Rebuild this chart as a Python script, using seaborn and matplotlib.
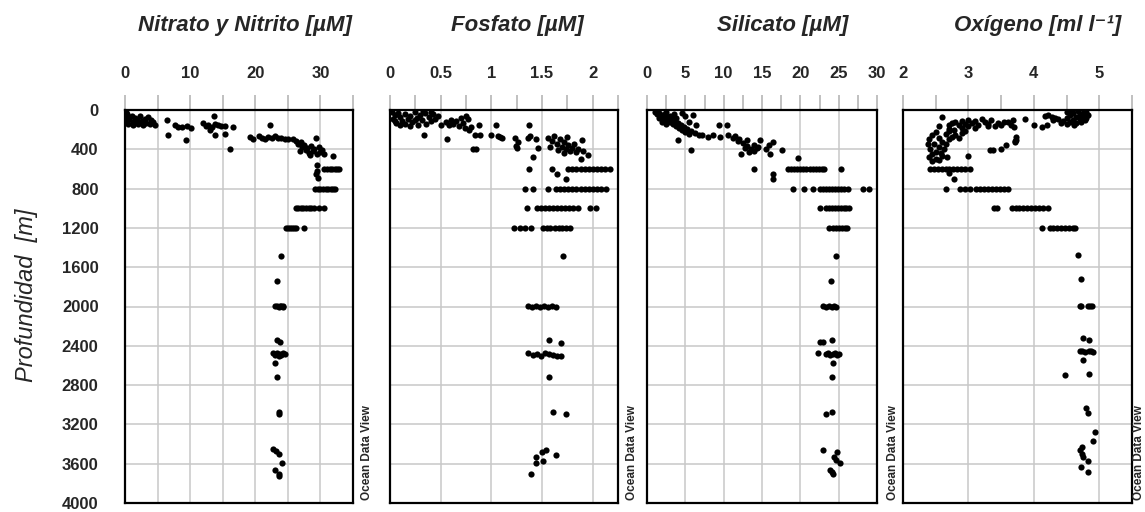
import matplotlib
matplotlib.use("Agg")
import matplotlib.pyplot as plt
import seaborn as sns
import pandas as pd

# (value, depth in m)
nitrate = [
    (0.3, 40), (0.4, 70), (0.3, 110), (0.5, 140), (0.2, 20), (0.6, 90), (1.0, 60), (1.2, 120),
    (1.5, 80), (1.8, 100), (2.0, 140), (2.3, 60), (2.6, 110), (3.0, 90), (3.2, 130), (3.5, 70),
    (3.8, 140), (4.0, 100), (4.3, 120), (4.6, 150), (2.8, 150), (1.3, 150),
    (6.5, 100), (6.6, 255), (7.6, 150), (8.2, 170), (8.8, 170), (9.5, 165), (10.2, 180), (9.3, 305),
    (12.0, 130), (12.4, 160), (12.8, 150), (13.3, 170), (13.6, 65), (13.8, 140), (14.2, 150),
    (14.8, 165), (15.3, 160), (13.8, 255), (13.0, 200), (15.4, 240), (16.6, 170), (16.1, 400), (22.2, 150),
    (19.2, 270), (19.7, 300), (20.5, 260), (21.0, 280), (21.5, 300), (22.0, 270), (22.5, 290),
    (23.0, 260), (23.5, 280), (24.0, 290), (24.5, 300), (25.0, 295),
    (25.8, 300), (26.3, 320), (26.6, 350), (27.0, 330), (27.2, 380), (27.5, 360), (27.8, 410),
    (28.0, 390), (28.2, 440), (28.5, 370), (28.8, 420), (29.0, 400), (29.3, 290), (29.5, 450),
    (29.8, 380), (30.0, 430), (30.3, 410), (30.6, 450), (26.9, 420), (28.4, 460), (31.9, 470),
    (29.5, 560), (29.4, 620), (29.3, 650), (29.6, 690),
    (30.6, 600), (31.0, 600), (31.4, 600), (31.8, 600), (32.2, 600), (32.6, 600), (32.9, 600),
    (29.2, 800), (29.6, 800), (30.0, 800), (30.4, 800), (30.8, 800), (31.2, 800), (31.6, 800),
    (32.0, 800), (32.3, 800),
    (26.2, 1000), (26.6, 1000), (27.0, 1000), (27.4, 1000), (27.8, 1000), (28.2, 1000),
    (28.6, 1000), (29.0, 1000), (29.8, 1000), (30.5, 1000),
    (24.7, 1200), (25.0, 1200), (25.3, 1200), (25.6, 1200), (25.9, 1200), (26.2, 1200), (27.5, 1200),
    (24.0, 1486), (23.4, 1737),
    (23.0, 1995), (23.3, 1990), (23.6, 2000), (23.8, 1995), (24.0, 1990), (24.2, 2000), (24.3, 1995),
    (23.3, 2340), (23.8, 2360),
    (22.7, 2477), (23.1, 2490), (23.4, 2470), (23.6, 2500), (23.8, 2480), (24.0, 2490), (24.2, 2475), (24.5, 2480),
    (23.1, 2572), (23.3, 2720), (23.6, 3070), (23.6, 3095),
    (22.7, 3454), (23.2, 3471), (23.6, 3501), (24.15, 3597), (23.0, 3664), (23.7, 3705), (23.6, 3722),
]

phosphate = [
    (0.02, 20), (0.05, 50), (0.03, 90), (0.08, 30), (0.1, 70), (0.12, 110), (0.06, 130), (0.15, 40),
    (0.18, 90), (0.2, 60), (0.22, 120), (0.25, 20), (0.27, 80), (0.3, 50), (0.32, 100), (0.35, 30),
    (0.38, 70), (0.4, 110), (0.42, 40), (0.44, 90), (0.15, 140), (0.28, 150), (0.2, 160), (0.36, 140),
    (0.1, 150), (0.05, 110), (0.25, 100), (0.33, 10), (0.4, 20), (0.47, 60),
    (0.34, 255), (0.56, 293), (0.5, 150), (0.55, 120), (0.6, 100), (0.65, 110), (0.7, 80), (0.72, 130),
    (0.75, 60), (0.77, 90), (0.68, 160), (0.74, 180), (0.62, 140), (0.58, 150), (0.8, 170), (0.78, 200),
    (0.84, 255), (0.89, 255), (0.88, 155), (0.82, 400), (0.85, 400),
    (1.0, 255), (1.05, 155), (1.09, 270), (1.11, 290), (1.07, 260),
    (1.23, 290), (1.26, 325), (1.25, 390), (1.24, 370),
    (1.37, 155), (1.36, 290), (1.41, 475), (1.46, 390), (1.38, 260), (1.44, 300),
    (1.56, 290), (1.6, 320), (1.62, 260), (1.65, 350), (1.68, 300), (1.7, 380), (1.72, 330),
    (1.74, 400), (1.76, 360), (1.78, 420), (1.8, 390), (1.82, 350), (1.84, 430), (1.86, 400),
    (1.66, 410), (1.72, 440), (1.75, 270), (1.9, 420), (1.58, 380),
    (1.89, 305), (1.95, 460), (1.88, 500),
    (1.37, 600), (1.6, 600), (1.65, 650), (1.74, 700),
    (1.76, 600), (1.80, 600), (1.84, 600), (1.88, 600), (1.92, 600), (1.96, 600), (2.00, 600),
    (2.04, 600), (2.08, 600), (2.12, 600), (2.17, 600),
    (1.33, 800), (1.41, 800), (1.56, 800), (1.64, 800), (1.68, 800), (1.72, 800), (1.76, 800),
    (1.80, 800), (1.84, 800), (1.88, 800), (1.92, 800), (1.96, 800), (2.00, 800), (2.04, 800),
    (2.08, 800), (2.13, 800),
    (1.35, 1000), (1.45, 1000), (1.49, 1000), (1.53, 1000), (1.57, 1000), (1.61, 1000), (1.65, 1000),
    (1.69, 1000), (1.73, 1000), (1.77, 1000), (1.81, 1000), (1.86, 1000), (1.97, 1000), (2.03, 1000),
    (1.22, 1200), (1.28, 1200), (1.33, 1200), (1.39, 1200), (1.51, 1200), (1.55, 1200), (1.58, 1200),
    (1.63, 1200), (1.67, 1200), (1.70, 1200), (1.74, 1200), (1.78, 1200),
    (1.71, 1486),
    (1.36, 1990), (1.40, 2000), (1.44, 1995), (1.48, 2005), (1.52, 1995), (1.56, 2000), (1.60, 1990), (1.64, 2005),
    (1.57, 2340), (1.69, 2368),
    (1.36, 2470), (1.41, 2495), (1.45, 2480), (1.49, 2500), (1.53, 2475), (1.57, 2485), (1.61, 2490),
    (1.65, 2500), (1.69, 2500),
    (1.57, 2720), (1.61, 3070), (1.74, 3097), (1.54, 3460), (1.50, 3484), (1.64, 3511), (1.44, 3528),
    (1.51, 3569), (1.44, 3594), (1.39, 3705),
]

silicate = [
    (1.0, 20), (1.3, 40), (1.6, 30), (1.8, 60), (2.0, 50), (2.2, 80), (2.4, 40), (2.6, 100), (2.8, 70),
    (3.0, 120), (3.2, 90), (3.4, 140), (3.6, 110), (3.8, 160), (4.0, 130), (4.2, 180), (4.4, 150),
    (4.6, 200), (4.8, 170), (5.0, 220), (5.2, 190), (5.5, 240), (5.8, 210), (6.2, 230), (2.5, 20),
    (3.5, 40), (4.5, 30), (5.0, 60), (3.0, 60), (1.5, 80), (2.0, 120), (2.5, 140), (3.8, 80), (5.5, 120),
    (4.1, 305), (5.8, 407), (6.0, 46), (6.4, 150), (6.8, 250),
    (7.2, 255), (8.0, 270), (8.6, 255), (9.5, 270), (9.4, 150), (10.4, 150),
    (10.6, 255), (11.2, 290), (11.9, 320), (12.5, 340), (13.0, 370), (13.5, 400), (13.9, 420),
    (14.3, 390), (14.8, 310), (13.0, 310), (13.9, 360), (12.3, 450), (11.5, 260), (12.0, 300),
    (12.8, 390), (13.3, 430), (14.5, 380),
    (14.0, 600), (15.5, 400), (15.9, 360), (16.4, 330), (17.6, 410), (16.0, 450),
    (16.4, 650), (16.4, 700), (19.7, 490),
    (18.4, 600), (18.8, 600), (19.2, 600), (19.6, 600), (20.0, 600), (20.4, 600), (20.8, 600),
    (21.2, 600), (21.6, 600), (22.0, 600), (22.4, 600), (22.8, 600), (23.1, 600), (25.3, 600),
    (19.0, 800), (20.5, 800), (21.7, 800), (22.5, 800), (22.9, 800), (23.3, 800), (23.7, 800),
    (24.1, 800), (24.5, 800), (24.9, 800), (25.3, 800), (25.7, 800), (26.2, 800), (28.2, 800), (29.0, 800),
    (22.6, 1000), (23.3, 1000), (23.7, 1000), (24.1, 1000), (24.5, 1000), (24.9, 1000),
    (25.3, 1000), (25.7, 1000), (26.0, 1000), (26.3, 1000),
    (23.8, 1200), (24.2, 1200), (24.6, 1200), (25.0, 1200), (25.4, 1200), (25.8, 1200), (26.1, 1200),
    (24.6, 1486), (24.0, 1737),
    (23.0, 1995), (23.4, 2000), (23.8, 1990), (24.1, 2000), (24.4, 1995), (24.7, 2000),
    (22.6, 2358), (22.9, 2358), (24.1, 2340),
    (22.3, 2477), (23.3, 2480), (23.6, 2470), (23.9, 2490), (24.2, 2480), (24.5, 2475), (24.8, 2490), (25.0, 2485),
    (24.2, 2572), (24.1, 2720), (24.1, 3070), (23.4, 3097), (22.9, 3460), (24.8, 3480), (24.4, 3528),
    (25.2, 3594), (24.6, 3560), (23.9, 3664), (24.2, 3705), (24.1, 3685),
]

oxygen = [
    (4.5, 20), (4.55, 50), (4.6, 30), (4.65, 70), (4.7, 40), (4.75, 60), (4.8, 20), (4.82, 50),
    (4.5, 80), (4.6, 100), (4.7, 90), (4.78, 100), (4.55, 120), (4.65, 130), (4.72, 120), (4.5, 140),
    (4.8, 80), (4.58, 10), (4.68, 10), (4.76, 10), (4.45, 110), (4.62, 150),
    (4.17, 60), (4.22, 50), (4.27, 70), (4.32, 80), (4.37, 90), (4.42, 130), (4.2, 150), (4.0, 150),
    (4.13, 170), (4.3, 100),
    (3.86, 90), (3.68, 100), (3.73, 271), (3.72, 305), (3.71, 315), (3.71, 325), (3.58, 356),
    (3.50, 397), (3.33, 407), (3.38, 407), (3.65, 150), (3.7, 170), (3.6, 120),
    (2.6, 70), (2.55, 160), (2.7, 150), (2.75, 130), (2.8, 120), (2.85, 150), (2.9, 110), (2.95, 140),
    (3.0, 100), (3.05, 130), (3.1, 110), (3.15, 150), (3.2, 90), (3.25, 120), (3.3, 140), (3.35, 100),
    (3.4, 160), (3.45, 130), (3.5, 150), (3.55, 120), (3.0, 160), (2.9, 180), (2.78, 200), (2.7, 190),
    (3.1, 180), (3.3, 160),
    (2.45, 250), (2.4, 300), (2.38, 350), (2.42, 400), (2.45, 450), (2.5, 500), (2.5, 220), (2.55, 280),
    (2.6, 330), (2.55, 380), (2.5, 430), (2.6, 470), (2.65, 240), (2.7, 300), (2.65, 350), (2.7, 210),
    (2.8, 250), (2.85, 280), (2.9, 230), (2.95, 210), (2.4, 480), (2.45, 520), (2.55, 510), (2.62, 400),
    (2.48, 350), (2.58, 440), (2.75, 270), (2.68, 480), (3.0, 470),
    (2.41, 600), (2.47, 600), (2.53, 600), (2.59, 600), (2.65, 600), (2.71, 600), (2.77, 600),
    (2.83, 600), (2.89, 600), (2.95, 600), (3.02, 600),
    (2.7, 640), (2.78, 700),
    (2.66, 800), (2.87, 800), (2.94, 800), (3.02, 800), (3.12, 800), (3.18, 800), (3.24, 800),
    (3.30, 800), (3.36, 800), (3.42, 800), (3.48, 800), (3.54, 800), (3.61, 800),
    (3.39, 1000), (3.44, 1000), (3.66, 1000), (3.72, 1000), (3.78, 1000), (3.84, 1000),
    (3.90, 1000), (3.96, 1000), (4.02, 1000), (4.08, 1000), (4.14, 1000), (4.22, 1000),
    (4.12, 1200), (4.25, 1200), (4.30, 1200), (4.36, 1200), (4.42, 1200), (4.48, 1200),
    (4.54, 1200), (4.60, 1200), (4.63, 1200),
    (4.68, 1476), (4.72, 1724),
    (4.70, 1990), (4.72, 1995), (4.82, 1990), (4.86, 1995), (4.89, 1990),
    (4.75, 2324), (4.84, 2344),
    (4.71, 2455), (4.74, 2450), (4.78, 2460), (4.84, 2455), (4.88, 2450), (4.91, 2460),
    (4.75, 2545), (4.47, 2700), (4.85, 2690), (4.80, 3037), (4.83, 3081), (4.93, 3277),
    (4.91, 3372), (4.74, 3427), (4.71, 3460), (4.73, 3500), (4.75, 3535), (4.83, 3570),
    (4.72, 3630), (4.82, 3680),
]

titles = ["Nitrato y Nitrito [µM]", "Fosfato [µM]", "Silicato [µM]", "Oxígeno [ml l⁻¹]"]
depth_ticks = [0, 400, 800, 1200, 1600, 2000, 2400, 2800, 3200, 3600, 4000]

sns.set_style("white")
plt.rcParams['font.family'] = ['Liberation Sans', 'DejaVu Sans']

W, H = 1145, 512
fig = plt.figure(figsize=(W / 100, H / 100), dpi=100)

# panel layout in pixels: left, width, x-range, major ticks, labels, minor ticks, title center
panels = [
    (nitrate, 125, 228, (0, 35), [0, 5, 10, 15, 20, 25, 30, 35],
     ["0", "", "10", "", "20", "", "30", ""], [], 245),
    (phosphate, 390, 228, (0, 2.25), [0, 0.5, 1, 1.5, 2],
     ["0", "0.5", "1", "1.5", "2"], [0.25, 0.75, 1.25, 1.75, 2.25], 517),
    (silicate, 647, 230, (0, 30), [0, 5, 10, 15, 20, 25, 30],
     ["0", "5", "10", "15", "20", "25", "30"], [2.5, 7.5, 12.5, 17.5, 22.5, 27.5], 783),
    (oxygen, 903, 229, (2, 5.5), [2, 3, 4, 5],
     ["2", "3", "4", "5"], [2.5, 3.5, 4.5, 5.5], 1038),
]
odv_x = [367, 632, 893, 1139]

top, bottom = 110, 503
for i, (data, left, width, xlim, majors, labels, minors, tcx) in enumerate(panels):
    ax = fig.add_axes([left / W, 1 - bottom / H, width / W, (bottom - top) / H])
    df = pd.DataFrame(data, columns=["value", "depth"])
    sns.scatterplot(data=df, x="value", y="depth", ax=ax, color="black", s=20,
                    linewidth=0, zorder=3, legend=False)
    ax.set_xlim(*xlim)
    ax.set_ylim(4000, 0)
    ax.xaxis.tick_top()
    ax.set_xticks(majors, labels, fontweight="bold")
    ax.set_xticks(minors, minor=True)
    ax.set_yticks(depth_ticks)
    ax.tick_params(axis="x", which="both", length=11, width=1.2, color="#b5b5b5",
                   pad=10, labelsize=12)
    if i == 0:
        ax.set_yticklabels([str(d) for d in depth_ticks], fontweight="bold")
        ax.tick_params(axis="y", length=11, width=1.2, color="#b5b5b5", pad=8, labelsize=12)
    else:
        ax.tick_params(axis="y", length=0, labelleft=False)
    ax.grid(True, which="major", color="#c8c8c8", lw=1.1)
    ax.set_axisbelow(True)
    ax.set_xlabel("")
    ax.set_ylabel("")
    for sp in ax.spines.values():
        sp.set_color("black")
        sp.set_linewidth(1.6)

    fig.text(tcx / W, 1 - 25 / H, titles[i], ha="center", va="center", fontsize=16,
             fontweight="bold", style="italic")
    fig.text(odv_x[i] / W, 1 - 500 / H, "Ocean Data View", rotation=90, ha="center",
             va="bottom", fontsize=8.5, fontweight="bold")

fig.text(26 / W, 1 - 295 / H, "Profundidad  [m]", rotation=90, ha="center", va="center",
         fontsize=17, style="italic")

fig.savefig("out.png", dpi=100, facecolor="white")
